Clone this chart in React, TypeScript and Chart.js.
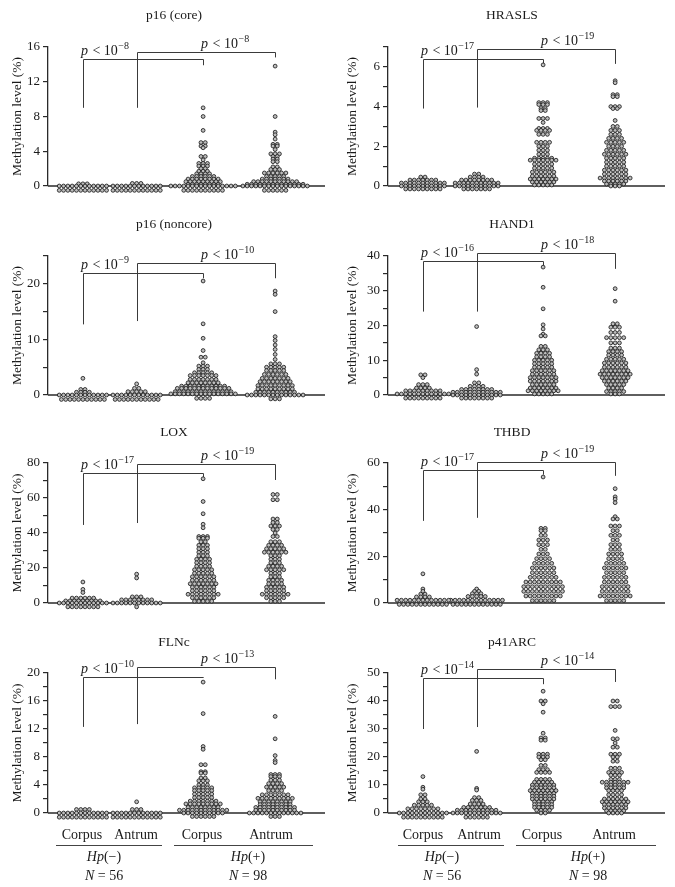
import React, { useEffect, useRef } from 'react';
import { Chart, registerables } from 'chart.js';

Chart.register(...registerables);

type Row = [number, number]; // [methylation value, number of samples drawn at that level]

// ---------------- DATA ----------------
const GROUP_LABELS = ['Corpus', 'Antrum', 'Corpus', 'Antrum'];

// p16 (core)
const P16CORE_NEG_CORPUS: Row[] = [[0.25, 3], [0, 12], [-0.5, 12], [-1.0, 10]];
const P16CORE_NEG_ANTRUM: Row[] = [[0.3, 3], [0, 12], [-0.5, 12], [-1.0, 10]];
const P16CORE_POS_CORPUS: Row[] = [[9.0, 1], [8.0, 1], [6.4, 1], [5.0, 2], [4.6, 2], [4.4, 1], [3.4, 2], [3.0, 1], [2.6, 3], [2.3, 3], [2.0, 2], [1.7, 3], [1.4, 4], [1.1, 6], [0.8, 8], [0.5, 9], [0.2, 8], [0, 16], [-0.5, 10], [-1.0, 7]];
const P16CORE_POS_ANTRUM: Row[] = [[13.8, 1], [8.0, 1], [6.2, 1], [5.9, 1], [5.4, 1], [4.8, 2], [4.6, 2], [4.2, 1], [3.7, 3], [3.4, 2], [3.1, 2], [2.8, 2], [2.2, 2], [1.9, 3], [1.5, 6], [1.1, 5], [0.8, 7], [0.5, 11], [0.2, 14], [0, 16], [-0.5, 6], [-1.0, 2]];
const P16CORE_BRACKETS = [9.0, 14.6, 13.9, 9.0, 15.4, 14.8];
const P16CORE_P = [-8, -8];

// HRASLS
const HRASLS_NEG_CORPUS: Row[] = [[0.45, 2], [0.3, 7], [0.15, 11], [0, 11], [-0.15, 9]];
const HRASLS_NEG_ANTRUM: Row[] = [[0.6, 2], [0.45, 4], [0.3, 8], [0.15, 11], [0, 11], [-0.15, 7]];
const HRASLS_POS_CORPUS: Row[] = [[6.1, 1], [4.2, 3], [4.1, 3], [3.9, 2], [3.8, 2], [3.4, 3], [3.2, 1], [2.9, 3], [2.8, 4], [2.6, 3], [2.2, 4], [2.0, 3], [1.8, 3], [1.6, 3], [1.4, 5], [1.3, 7], [1.1, 5], [0.9, 5], [0.7, 6], [0.5, 6], [0.35, 7], [0.2, 6], [0.05, 5]];
const HRASLS_POS_ANTRUM: Row[] = [[5.3, 1], [5.2, 1], [4.6, 2], [4.5, 2], [4.0, 3], [3.9, 2], [3.3, 1], [3.0, 2], [2.8, 3], [2.6, 3], [2.4, 4], [2.2, 5], [2.0, 4], [1.8, 5], [1.6, 6], [1.4, 5], [1.2, 5], [1.0, 5], [0.8, 6], [0.6, 6], [0.4, 8], [0.25, 6], [0.1, 5], [0, 3]];
const HRASLS_BRACKETS = [3.9, 6.4, 6.05, 3.95, 6.9, 6.15];
const HRASLS_P = [-17, -19];

// p16 (noncore)
const P16NC_NEG_CORPUS: Row[] = [[3.0, 1], [1.0, 2], [0.5, 4], [0, 12], [-0.8, 11]];
const P16NC_NEG_ANTRUM: Row[] = [[2.0, 1], [1.2, 2], [0.6, 5], [0, 12], [-0.8, 11]];
const P16NC_POS_CORPUS: Row[] = [[20.5, 1], [12.8, 1], [10.2, 1], [8.0, 1], [6.8, 2], [5.8, 1], [5.2, 3], [4.6, 3], [4.0, 5], [3.5, 7], [2.8, 7], [2.2, 8], [1.6, 11], [1.2, 13], [0.6, 14], [0.2, 16], [-0.6, 4]];
const P16NC_POS_ANTRUM: Row[] = [[18.7, 1], [18.1, 1], [15.0, 1], [10.5, 1], [9.8, 1], [9.0, 1], [8.2, 1], [7.3, 1], [6.4, 1], [5.6, 3], [5.0, 5], [4.4, 5], [3.7, 6], [3.0, 7], [2.4, 8], [1.7, 9], [1.1, 9], [0.5, 10], [0, 14], [-0.7, 3]];
const P16NC_BRACKETS = [12.7, 21.9, 21.0, 13.3, 23.7, 21.0];
const P16NC_P = [-9, -10];

// HAND1
const HAND1_NEG_CORPUS: Row[] = [[5.8, 2], [5.0, 1], [3.0, 3], [2.0, 4], [1.2, 9], [0.3, 13], [-0.9, 9]];
const HAND1_NEG_ANTRUM: Row[] = [[19.7, 1], [7.3, 1], [6.0, 1], [3.5, 2], [2.5, 4], [1.6, 8], [0.8, 12], [0, 12], [-0.9, 8]];
const HAND1_POS_CORPUS: Row[] = [[36.8, 1], [31, 1], [24.8, 1], [20.2, 1], [19.0, 1], [17.5, 1], [17, 2], [14, 2], [13, 3], [12, 4], [11, 4], [10, 5], [9, 5], [8, 5], [7, 6], [6, 6], [5, 7], [4, 7], [3, 6], [2, 7], [1.2, 8], [0.3, 5]];
const HAND1_POS_ANTRUM: Row[] = [[30.6, 1], [27, 1], [20.5, 2], [19.5, 3], [18, 3], [16.5, 5], [15, 3], [13.5, 3], [12.5, 4], [11.5, 4], [10.3, 5], [9.2, 6], [8, 6], [7, 7], [6, 8], [5, 7], [4, 6], [3, 5], [2, 4], [1, 5], [0.3, 3]];
const HAND1_BRACKETS = [24, 38.6, 37.2, 24, 40.9, 36.3];
const HAND1_P = [-16, -18];

// LOX
const LOX_NEG_CORPUS: Row[] = [[12, 1], [7.8, 1], [6, 1], [2.8, 6], [1.2, 9], [0, 12], [-2.2, 8]];
const LOX_NEG_ANTRUM: Row[] = [[16.5, 1], [14.3, 1], [3.5, 3], [1.8, 8], [0, 12], [-2.2, 1]];
const LOX_POS_CORPUS: Row[] = [[71, 1], [58, 1], [51, 1], [45, 1], [43, 1], [38, 3], [37, 3], [35, 2], [33, 3], [31, 3], [29, 3], [27, 3], [25, 4], [23, 4], [21, 4], [19, 5], [17, 5], [15, 6], [13, 6], [11, 7], [9, 6], [7, 6], [5, 8], [3, 6], [1, 5]];
const LOX_POS_ANTRUM: Row[] = [[62, 2], [59, 2], [48, 2], [46, 2], [44, 3], [42, 2], [40, 1], [38, 2], [35, 3], [33, 4], [31, 5], [29, 6], [27, 3], [25, 3], [23, 3], [21, 4], [19, 5], [17, 3], [15, 3], [13, 4], [11, 4], [9, 5], [7, 5], [5, 7], [3, 5], [1, 3]];
const LOX_BRACKETS = [44.6, 74.3, 72, 45.7, 79.4, 70.3];
const LOX_P = [-17, -19];

// THBD
const THBD_NEG_CORPUS: Row[] = [[12.5, 1], [6, 1], [5, 1], [3.8, 2], [2.6, 4], [1.2, 13], [-0.6, 12], [-2.4, 7]];
const THBD_NEG_ANTRUM: Row[] = [[6, 1], [5, 2], [4, 3], [2.8, 5], [1.2, 13], [-0.6, 12], [-2.4, 7]];
const THBD_POS_CORPUS: Row[] = [[54, 1], [32, 2], [31, 2], [29, 2], [27, 3], [25, 3], [23, 2], [21, 3], [19, 4], [17, 5], [15, 6], [13, 6], [11, 7], [9, 9], [7, 10], [5, 10], [3, 9], [1, 6]];
const THBD_POS_ANTRUM: Row[] = [[49, 1], [45.5, 1], [44.5, 1], [43, 1], [37, 1], [36, 2], [33, 3], [31, 2], [29, 3], [27, 2], [25, 3], [23, 3], [21, 4], [19, 4], [17, 5], [15, 6], [13, 5], [11, 6], [9, 6], [7, 7], [5, 7], [3, 8], [1, 5]];
const THBD_BRACKETS = [35.2, 57, 55, 36.5, 60.5, 54.5];
const THBD_P = [-17, -19];

// FLNc
const FLNC_NEG_CORPUS: Row[] = [[0.5, 4], [0, 12], [-0.6, 12], [-1.2, 10]];
const FLNC_NEG_ANTRUM: Row[] = [[1.6, 1], [0.5, 3], [0, 12], [-0.6, 12], [-1.2, 10]];
const FLNC_POS_CORPUS: Row[] = [[18.7, 1], [14.2, 1], [9.5, 1], [9.1, 1], [6.9, 2], [5.9, 2], [5.7, 2], [5.0, 2], [4.6, 3], [4.0, 3], [3.6, 5], [3.2, 5], [2.7, 5], [2.2, 5], [1.7, 7], [1.3, 9], [0.8, 8], [0.4, 12], [0, 10], [-0.5, 6]];
const FLNC_POS_ANTRUM: Row[] = [[13.8, 1], [10.6, 1], [8.2, 1], [7.5, 1], [7.2, 1], [5.5, 3], [5.2, 3], [4.7, 3], [4.2, 4], [3.7, 5], [3.2, 4], [2.6, 7], [2.1, 9], [1.6, 8], [1.2, 8], [0.8, 10], [0.4, 10], [0, 13], [-0.5, 3]];
const FLNC_BRACKETS = [12.3, 19.4, 19.4, 12.7, 20.9, 19.1];
const FLNC_P = [-10, -13];

// p41ARC
const P41_NEG_CORPUS: Row[] = [[13, 1], [9.2, 1], [8.5, 1], [6.5, 2], [5, 2], [4, 3], [2.8, 5], [1.5, 8], [0, 12], [-1.5, 10]];
const P41_NEG_ANTRUM: Row[] = [[22, 1], [8.8, 1], [8.2, 1], [5.5, 2], [4.5, 3], [3.2, 4], [2, 7], [1, 10], [0, 12], [-1.5, 6]];
const P41_POS_CORPUS: Row[] = [[43.5, 1], [40, 2], [39, 1], [36, 1], [28.5, 1], [26.8, 2], [26, 2], [21, 3], [20, 3], [19, 2], [17, 2], [15.5, 3], [14.5, 4], [12, 4], [11, 5], [10, 6], [9, 6], [8, 7], [7, 6], [6, 6], [5, 6], [4, 5], [3, 5], [2, 5], [1, 4], [0, 2]];
const P41_POS_ANTRUM: Row[] = [[40, 2], [38, 3], [29.5, 1], [26.5, 2], [25, 1], [23.5, 2], [21, 3], [20, 2], [18.5, 2], [16, 3], [14.5, 4], [13.5, 3], [12, 3], [11, 7], [10, 5], [9, 5], [8, 4], [6.5, 4], [5, 6], [4, 7], [3, 6], [1.8, 6], [0.8, 5], [0, 4]];
const P41_BRACKETS = [30, 48.2, 46, 30.7, 51.4, 46.8];
const P41_P = [-14, -14];

// Axis definitions: [max, labelled step, tick step]
const AXIS_P16CORE = [16, 4, 4];
const AXIS_HRASLS = [7, 2, 1];
const AXIS_P16NC = [25, 10, 5];
const AXIS_HAND1 = [40, 10, 5];
const AXIS_LOX = [80, 20, 10];
const AXIS_THBD = [60, 20, 10];
const AXIS_FLNC = [20, 4, 2];
const AXIS_P41 = [50, 10, 5];

// ---------------- LAYOUT ----------------
const FONT = '"Liberation Serif", "DejaVu Serif", serif';
const X_MAX = 10;
const GROUP_X = [1.26, 3.2, 5.6, 8.2];
const PLOT_W_PX = 277;
const DOT_PITCH_PX = 4.3;
const ROW_ZERO = [186, 395, 603, 813];
const ROW_TOP = [47, 256, 463, 673];
const CANVAS_H = 200;
const COLS = [
  { left: 0, w: 337, axisX: 48, rightX: 325, titleX: 174, yTitleX: 17 },
  { left: 337, w: 338, axisX: 388, rightX: 665, titleX: 512, yTitleX: 352 },
];

interface PanelSpec {
  title: string;
  series: Row[][];
  brackets: number[];
  pexp: number[];
  axis: number[];
  col: number;
  row: number;
}

const PANELS: PanelSpec[] = [
  { title: 'p16 (core)', series: [P16CORE_NEG_CORPUS, P16CORE_NEG_ANTRUM, P16CORE_POS_CORPUS, P16CORE_POS_ANTRUM], brackets: P16CORE_BRACKETS, pexp: P16CORE_P, axis: AXIS_P16CORE, col: 0, row: 0 },
  { title: 'HRASLS', series: [HRASLS_NEG_CORPUS, HRASLS_NEG_ANTRUM, HRASLS_POS_CORPUS, HRASLS_POS_ANTRUM], brackets: HRASLS_BRACKETS, pexp: HRASLS_P, axis: AXIS_HRASLS, col: 1, row: 0 },
  { title: 'p16 (noncore)', series: [P16NC_NEG_CORPUS, P16NC_NEG_ANTRUM, P16NC_POS_CORPUS, P16NC_POS_ANTRUM], brackets: P16NC_BRACKETS, pexp: P16NC_P, axis: AXIS_P16NC, col: 0, row: 1 },
  { title: 'HAND1', series: [HAND1_NEG_CORPUS, HAND1_NEG_ANTRUM, HAND1_POS_CORPUS, HAND1_POS_ANTRUM], brackets: HAND1_BRACKETS, pexp: HAND1_P, axis: AXIS_HAND1, col: 1, row: 1 },
  { title: 'LOX', series: [LOX_NEG_CORPUS, LOX_NEG_ANTRUM, LOX_POS_CORPUS, LOX_POS_ANTRUM], brackets: LOX_BRACKETS, pexp: LOX_P, axis: AXIS_LOX, col: 0, row: 2 },
  { title: 'THBD', series: [THBD_NEG_CORPUS, THBD_NEG_ANTRUM, THBD_POS_CORPUS, THBD_POS_ANTRUM], brackets: THBD_BRACKETS, pexp: THBD_P, axis: AXIS_THBD, col: 1, row: 2 },
  { title: 'FLNc', series: [FLNC_NEG_CORPUS, FLNC_NEG_ANTRUM, FLNC_POS_CORPUS, FLNC_POS_ANTRUM], brackets: FLNC_BRACKETS, pexp: FLNC_P, axis: AXIS_FLNC, col: 0, row: 3 },
  { title: 'p41ARC', series: [P41_NEG_CORPUS, P41_NEG_ANTRUM, P41_POS_CORPUS, P41_POS_ANTRUM], brackets: P41_BRACKETS, pexp: P41_P, axis: AXIS_P41, col: 1, row: 3 },
];

function expandRows(rows: Row[], gx: number) {
  const pitch = (DOT_PITCH_PX * X_MAX) / PLOT_W_PX;
  const pts: { x: number; y: number }[] = [];
  for (const [v, n] of rows) {
    for (let i = 0; i < n; i++) pts.push({ x: gx + (i - (n - 1) / 2) * pitch, y: v });
  }
  return pts;
}

function drawPLabel(ctx: CanvasRenderingContext2D, x: number, y: number, exp: number) {
  ctx.save();
  ctx.fillStyle = '#1a1a1a';
  ctx.textAlign = 'left';
  ctx.textBaseline = 'alphabetic';
  ctx.font = `italic 14px ${FONT}`;
  ctx.fillText('p', x, y);
  let w = ctx.measureText('p').width;
  ctx.font = `14px ${FONT}`;
  ctx.fillText(' < 10', x + w + 1, y);
  w += ctx.measureText(' < 10').width + 1;
  ctx.font = `10px ${FONT}`;
  ctx.fillText('\u2212' + Math.abs(exp), x + w + 0.5, y - 6);
  ctx.restore();
}

function Panel({ spec }: { spec: PanelSpec }) {
  const ref = useRef<HTMLCanvasElement>(null);
  const col = COLS[spec.col];
  const canvasTop = ROW_ZERO[spec.row] - 186;
  useEffect(() => {
    if (!ref.current) return;
    const [yMax, labelStep, tickStep] = spec.axis;
    const overlay = {
      id: 'overlay' + spec.title,
      beforeDatasetsDraw(chart: any) {
        const ctx = chart.ctx as CanvasRenderingContext2D;
        const xs = chart.scales.x;
        const ys = chart.scales.y;
        const area = chart.chartArea;
        ctx.save();
        ctx.strokeStyle = '#2a2a2a';
        ctx.lineWidth = 1.3;
        ctx.beginPath();
        const y0 = ys.getPixelForValue(0);
        ctx.moveTo(area.left, y0);
        ctx.lineTo(area.right, y0);
        ctx.stroke();
        const b = spec.brackets;
        ctx.strokeStyle = '#3a3a3a';
        ctx.lineWidth = 1;
        const br = (g1: number, g2: number, bot: number, top: number, end: number) => {
          const x1 = Math.round(xs.getPixelForValue(GROUP_X[g1])) + 0.5;
          const x2 = Math.round(xs.getPixelForValue(GROUP_X[g2])) + 0.5;
          const yt = Math.round(ys.getPixelForValue(top)) + 0.5;
          ctx.beginPath();
          ctx.moveTo(x1, ys.getPixelForValue(bot));
          ctx.lineTo(x1, yt);
          ctx.lineTo(x2, yt);
          ctx.lineTo(x2, ys.getPixelForValue(end));
          ctx.stroke();
        };
        br(0, 2, b[0], b[1], b[2]);
        br(1, 3, b[3], b[4], b[5]);
        ctx.restore();
      },
      afterDraw(chart: any) {
        const ctx = chart.ctx as CanvasRenderingContext2D;
        const xs = chart.scales.x;
        const ys = chart.scales.y;
        const area = chart.chartArea;
        ctx.save();
        ctx.fillStyle = '#1a1a1a';
        ctx.font = `13.5px ${FONT}`;
        ctx.textAlign = 'center';
        ctx.textBaseline = 'middle';
        ctx.fillText(spec.title, col.titleX - col.left, ROW_ZERO[spec.row] - 171 - canvasTop);
        ctx.save();
        ctx.translate(col.yTitleX - col.left, (area.top + area.bottom) / 2);
        ctx.rotate(-Math.PI / 2);
        ctx.font = `13.5px ${FONT}`;
        ctx.fillText('Methylation level (%)', 0, 0);
        ctx.restore();
        ctx.restore();
        const b = spec.brackets;
        drawPLabel(ctx, xs.getPixelForValue(GROUP_X[0]) - 2, ys.getPixelForValue(b[1]) - 4, spec.pexp[0]);
        drawPLabel(ctx, xs.getPixelForValue(GROUP_X[2]) - 2, ys.getPixelForValue(b[4]) - 4, spec.pexp[1]);
      },
    };
    const chart = new Chart(ref.current, {
      type: 'scatter',
      data: {
        datasets: spec.series.map((rows, gi) => ({
          label: GROUP_LABELS[gi],
          data: expandRows(rows, GROUP_X[gi]),
          pointRadius: 1.9,
          pointBorderWidth: 0.85,
          pointBorderColor: '#1c1c1c',
          pointBackgroundColor: '#bdbdbd',
          clip: false,
        })) as any,
      },
      options: {
        animation: false,
        responsive: false,
        events: [],
        layout: {
          padding: {
            top: ROW_TOP[spec.row] - canvasTop,
            bottom: CANVAS_H - 186,
            left: 0,
            right: col.left + col.w - col.rightX,
          },
        },
        plugins: { legend: { display: false }, tooltip: { enabled: false }, title: { display: false } },
        scales: {
          x: { type: 'linear', display: false, min: 0, max: X_MAX },
          y: {
            type: 'linear',
            min: 0,
            max: yMax,
            afterFit: (s: any) => {
              s.width = col.axisX - col.left;
            },
            border: { display: true, color: '#2a2a2a', width: 1.3 },
            grid: { drawOnChartArea: false, drawTicks: true, tickLength: 5, color: '#2a2a2a', lineWidth: 1.2 },
            ticks: {
              stepSize: tickStep,
              autoSkip: false,
              padding: 3,
              color: '#1a1a1a',
              font: { family: FONT, size: 13 },
              callback: (v: any) => {
                const n = Number(v);
                return Math.abs(n / labelStep - Math.round(n / labelStep)) < 1e-6 ? String(n) : '';
              },
            },
          },
        } as any,
      },
      plugins: [overlay],
    });
    return () => chart.destroy();
  }, [spec]);
  return (
    <canvas
      ref={ref}
      width={col.w}
      height={CANVAS_H}
      style={{ position: 'absolute', left: col.left, top: canvasTop, width: col.w, height: CANVAS_H }}
    />
  );
}

const BOTTOM_GROUP_X = [
  [82, 136, 202, 271],
  [423, 479, 542, 614],
];
const BOTTOM_LINES = [
  [[56, 162], [174, 313]],
  [[398, 504], [516, 656]],
];
const BOTTOM_HP_X = [
  [104, 248],
  [442, 588],
];
const HP_LABELS = ['\u2212', '+'];
const N_LABELS = ['56', '98'];

function Txt({ x, y, children, size = 14 }: { x: number; y: number; children: any; size?: number }) {
  return (
    <div
      style={{
        position: 'absolute',
        left: x,
        top: y - 9,
        height: 18,
        lineHeight: '18px',
        transform: 'translateX(-50%)',
        whiteSpace: 'nowrap',
        fontFamily: FONT,
        fontSize: size,
        color: '#1a1a1a',
      }}
    >
      {children}
    </div>
  );
}

export default function App() {
  return (
    <div style={{ position: 'absolute', left: 0, top: 0, width: 675, height: 887, background: '#fff', overflow: 'hidden' }}>
      {PANELS.map((p) => (
        <Panel key={p.title} spec={p} />
      ))}
      {[0, 1].map((c) => (
        <React.Fragment key={c}>
          {GROUP_LABELS.map((g, i) => (
            <Txt key={'g' + i} x={BOTTOM_GROUP_X[c][i]} y={835}>
              {g}
            </Txt>
          ))}
          {BOTTOM_LINES[c].map(([a, b], i) => (
            <div key={'l' + i} style={{ position: 'absolute', left: a, top: 845, width: b - a, height: 1, background: '#444' }} />
          ))}
          {[0, 1].map((h) => (
            <React.Fragment key={'h' + h}>
              <Txt x={BOTTOM_HP_X[c][h]} y={857}>
                <i>Hp</i>({HP_LABELS[h]})
              </Txt>
              <Txt x={BOTTOM_HP_X[c][h]} y={876}>
                <i>N</i> = {N_LABELS[h]}
              </Txt>
            </React.Fragment>
          ))}
        </React.Fragment>
      ))}
    </div>
  );
}
